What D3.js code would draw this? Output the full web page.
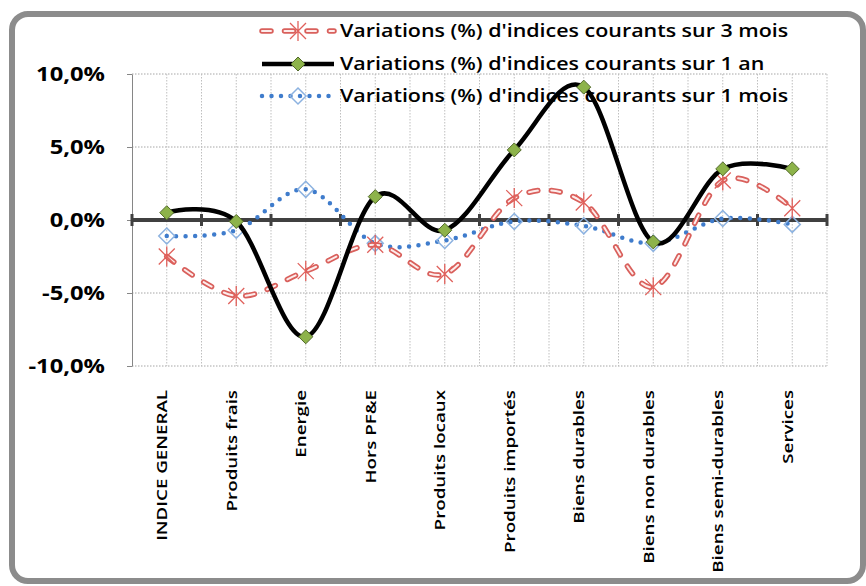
<!DOCTYPE html>
<html>
<head>
<meta charset="utf-8">
<script src="https://cdn.jsdelivr.net/npm/d3@7"></script>
<style>
  body { margin: 0; background: #fff; }
  text { font-family: "Open Sans", sans-serif; fill: #000; }
</style>
</head>
<body>
<svg id="chart" width="866" height="586"></svg>
<script>
// data (in %)
const categories = ["INDICE GENERAL", "Produits frais", "Energie", "Hors PF&E", "Produits locaux",
  "Produits importés", "Biens durables", "Biens non durables", "Biens semi-durables", "Services"];
const mois3 = [-2.5, -5.2, -3.5, -1.7, -3.7, 1.5, 1.2, -4.6, 2.7, 0.8];
const an1 = [0.5, -0.1, -8.0, 1.6, -0.7, 4.8, 9.1, -1.5, 3.5, 3.5];
const mois1 = [-1.1, -0.7, 2.1, -1.6, -1.4, -0.1, -0.4, -1.6, 0.1, -0.3];
const yTicks = [-10, -5, 0, 5, 10];
const legendLabels = ["Variations (%) d'indices courants sur 3 mois",
  "Variations (%) d'indices courants sur 1 an",
  "Variations (%) d'indices courants sur 1 mois"];

const svg = d3.select("#chart");
const margin = { top: 74, right: 39, bottom: 220, left: 132 };
const W = 866, H = 586;

// stretch text along its direction, the picture's font is wider than what we have
function stretch(sel, k) {
  sel.each(function () {
    const L = this.getComputedTextLength();
    d3.select(this).attr("textLength", L * k).attr("lengthAdjust", "spacingAndGlyphs");
  });
}

// frame
svg.append("rect")
  .attr("x", 12).attr("y", 14).attr("width", 851).attr("height", 567)
  .attr("rx", 16).attr("fill", "#fff")
  .attr("stroke", "#8c8c8c").attr("stroke-width", 6);

const x = d3.scaleBand().domain(categories).range([margin.left, W - margin.right]);
const cx = (d) => x(d) + x.bandwidth() / 2;
const y = d3.scaleLinear().domain([-10, 10]).range([H - margin.bottom, margin.top]);

const locale = d3.formatLocale({ decimal: ",", thousands: " ", grouping: [3], currency: ["", "€"], minus: "-" });
const fmt = locale.format(".1f");

// grid
const grid = svg.append("g").attr("class", "grid");
grid.selectAll(".hgrid")
  .data(yTicks.filter((t) => t !== 0))
  .join("line")
  .attr("x1", x.range()[0]).attr("x2", x.range()[1])
  .attr("y1", (d) => y(d)).attr("y2", (d) => y(d))
  .attr("stroke", "#a6a6a6").attr("stroke-width", 1).attr("stroke-dasharray", "1.5 1.5");

const halfSteps = d3.range(1, categories.length * 2 + 1).map((i) => x.range()[0] + i * x.bandwidth() / 2);
grid.selectAll(".vgrid")
  .data(halfSteps)
  .join("line")
  .attr("x1", (d) => d).attr("x2", (d) => d)
  .attr("y1", y(10)).attr("y2", y(-10))
  .attr("stroke", "#bfbfbf").attr("stroke-width", 1).attr("stroke-dasharray", "1.5 1.5");

// y axis
const yAxis = svg.append("g")
  .attr("transform", `translate(${margin.left},0)`)
  .call(d3.axisLeft(y).tickValues(yTicks).tickSize(5).tickSizeOuter(0).tickFormat((d) => fmt(d) + "%"));
yAxis.select(".domain").attr("stroke", "#868686");
yAxis.selectAll(".tick line").attr("stroke", "#868686");
yAxis.selectAll("text")
  .attr("x", -27)
  .style("font-size", "19px").style("font-weight", "700")
  .call(stretch, 1.25);

// x axis labels at the bottom
const xAxis = svg.append("g")
  .attr("transform", `translate(0,${y(-10)})`)
  .call(d3.axisBottom(x).tickSize(0));
xAxis.select(".domain").remove();
xAxis.selectAll("text")
  .attr("transform", "rotate(-90)")
  .attr("x", -24).attr("y", -5).attr("dy", "0.35em")
  .style("text-anchor", "end")
  .style("font-size", "15px").style("font-weight", "600")
  .call(stretch, 1.25);

// zero line with ticks between categories
const zero = svg.append("g");
zero.append("line")
  .attr("x1", x.range()[0]).attr("x2", x.range()[1])
  .attr("y1", y(0)).attr("y2", y(0))
  .attr("stroke", "#404040").attr("stroke-width", 4);
zero.selectAll(".zt")
  .data(d3.range(0, categories.length + 1).map((i) => x.range()[0] + i * x.bandwidth()))
  .join("line")
  .attr("x1", (d) => d).attr("x2", (d) => d)
  .attr("y1", y(0) - 6).attr("y2", y(0) + 6)
  .attr("stroke", "#404040").attr("stroke-width", 3);

const line = d3.line()
  .x((d, i) => cx(categories[i]))
  .y((d) => y(d))
  .curve(d3.curveCardinal.tension(0));

// marker shapes
const star = (r) => `M0,${-r}L0,${r}M${-r * 0.8},${-r * 0.8}L${r * 0.8},${r * 0.8}M${-r * 0.8},${r * 0.8}L${r * 0.8},${-r * 0.8}`;
const diamond = (r) => `M0,${-r}L${r},0L0,${r}L${-r},0Z`;

function drawMois3(g, d) {
  g.append("path").attr("d", d).attr("fill", "none")
    .attr("stroke", "#d9605c").attr("stroke-width", 5.5)
    .attr("stroke-linecap", "round").attr("stroke-dasharray", "9 13.5");
  g.append("path").attr("d", d).attr("fill", "none")
    .attr("stroke", "#fdeceb").attr("stroke-width", 2)
    .attr("stroke-linecap", "round").attr("stroke-dasharray", "9 13.5");
}
function drawMois1(g, d) {
  g.append("path").attr("d", d).attr("fill", "none")
    .attr("stroke", "#3f7ccc").attr("stroke-width", 4.5)
    .attr("stroke-linecap", "round").attr("stroke-dasharray", "0 9.5");
}
function drawAn1(g, d) {
  g.append("path").attr("d", d).attr("fill", "none")
    .attr("stroke", "#000").attr("stroke-width", 4.5);
}
function markStar(sel) {
  sel.attr("d", star(10)).attr("fill", "none").attr("stroke", "#e0605b").attr("stroke-width", 1.3);
}
function markGreen(sel) {
  sel.attr("d", diamond(7)).attr("fill", "#8db34a").attr("stroke", "#52692a").attr("stroke-width", 1);
}
function markBlue(sel) {
  sel.attr("d", diamond(8)).attr("fill", "none").attr("stroke", "#8cb2e0").attr("stroke-width", 1.5);
}

const plot = svg.append("g").attr("class", "plot-area");

// 1 mois
const g1 = plot.append("g");
drawMois1(g1, line(mois1));
g1.selectAll("path.m").data(mois1).join("path").attr("class", "m")
  .attr("transform", (d, i) => `translate(${cx(categories[i])},${y(d)})`).call(markBlue);

// 3 mois
const g3 = plot.append("g");
drawMois3(g3, line(mois3));
g3.selectAll("path.m").data(mois3).join("path").attr("class", "m")
  .attr("transform", (d, i) => `translate(${cx(categories[i])},${y(d)})`).call(markStar);

// 1 an
const ga = plot.append("g");
drawAn1(ga, line(an1));
ga.selectAll("path.m").data(an1).join("path").attr("class", "m")
  .attr("transform", (d, i) => `translate(${cx(categories[i])},${y(d)})`).call(markGreen);

// legend
const legend = svg.append("g").attr("class", "legend");
const rowsY = [31, 64, 96];
const lx0 = 262, lx1 = 334, lmid = (lx0 + lx1) / 2;
const drawers = [drawMois3, drawAn1, drawMois1];
const markers = [markStar, markGreen, markBlue];
legendLabels.forEach((lab, i) => {
  const row = legend.append("g");
  drawers[i](row, `M${lx0},${rowsY[i]}L${lx1},${rowsY[i]}`);
  row.append("path").attr("transform", `translate(${lmid},${rowsY[i]})`).call(markers[i]);
  row.append("text")
    .attr("x", 340).attr("y", rowsY[i]).attr("dy", "0.35em")
    .style("font-size", "18px").style("font-weight", "600")
    .text(lab)
    .call(stretch, 1.19);
});
</script>
</body>
</html>
